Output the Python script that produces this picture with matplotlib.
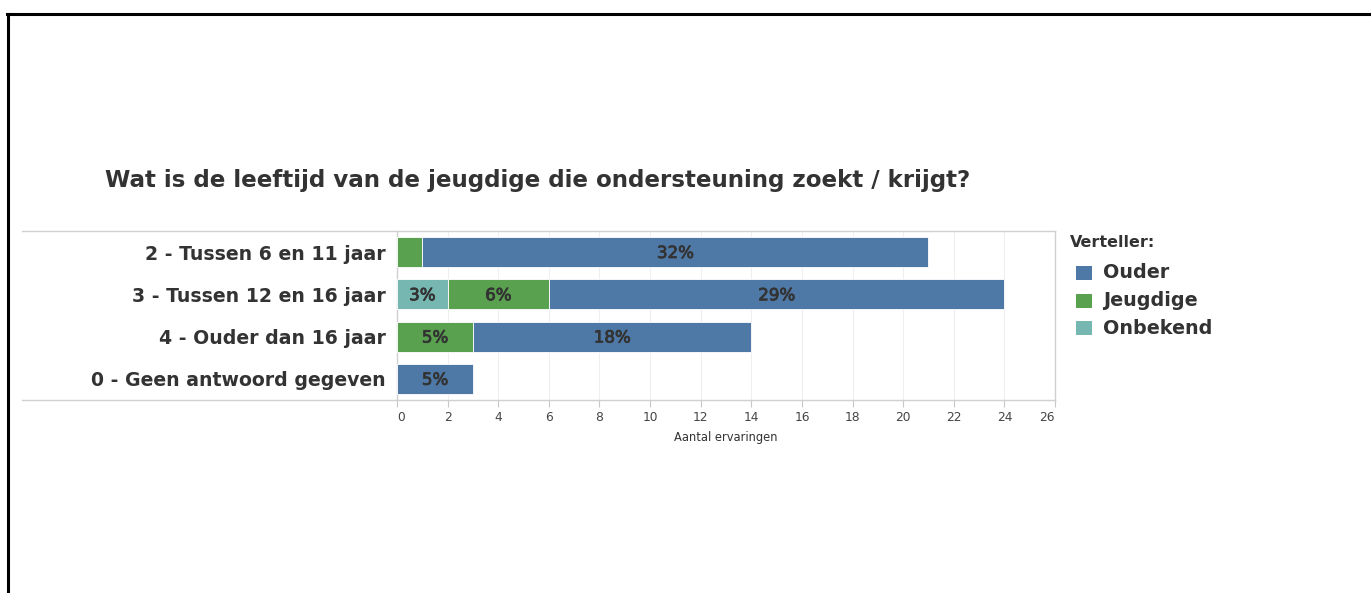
import matplotlib
matplotlib.use("Agg")
import matplotlib.pyplot as plt
import matplotlib.patheffects as pe
from matplotlib.lines import Line2D
from matplotlib.patches import Rectangle

# ---- data ----
categories = ["2 - Tussen 6 en 11 jaar", "3 - Tussen 12 en 16 jaar",
              "4 - Ouder dan 16 jaar", "0 - Geen antwoord gegeven"]
onbekend = [0, 2, 0, 0]
jeugdige = [1, 4, 3, 0]
ouder = [20, 18, 11, 3]
onbekend_lbl = ["", "3%", "", ""]
jeugdige_lbl = ["", "6%", "5%", ""]
ouder_lbl = ["32%", "29%", "18%", "5%"]
series_names = ["Ouder", "Jeugdige", "Onbekend"]
colors = {"Ouder": "#4e79a7", "Jeugdige": "#59a14f", "Onbekend": "#76b7b2"}
xticks = list(range(0, 27, 2))
title = "Wat is de leeftijd van de jeugdige die ondersteuning zoekt / krijgt?"
xlabel = "Aantal ervaringen"
legend_title = "Verteller:"

FONT = "DejaVu Sans"
FW, FH = 1371, 593
fig = plt.figure(figsize=(FW / 100, FH / 100), dpi=100)
fig.patch.set_facecolor("white")

def fx(px):
    return px / FW

def fy(py):
    return 1 - py / FH

LEFT, RIGHT, TOP, BOT = 397, 1055, 231, 400
ax = fig.add_axes([fx(LEFT), fy(BOT), fx(RIGHT) - fx(LEFT), fy(TOP) - fy(BOT)])

ypos = list(range(len(categories)))
h = 0.71
txtc = "#333333"
lab_font = dict(family=FONT, fontsize=12, color=txtc, fontweight="normal",
                path_effects=[pe.withStroke(linewidth=0.6, foreground=txtc)])

stack = [("Onbekend", onbekend, onbekend_lbl), ("Jeugdige", jeugdige, jeugdige_lbl),
         ("Ouder", ouder, ouder_lbl)]
left = [0] * len(categories)
for name, vals, lbls in stack:
    ax.barh(ypos, vals, left=left, height=h, color=colors[name],
            edgecolor="#ffffff", linewidth=0.6, zorder=3)
    for i, (v, l) in enumerate(zip(vals, lbls)):
        if v > 0 and l:
            ax.text(left[i] + v / 2, ypos[i] + 0.02, l, ha="center", va="center",
                    zorder=4, **lab_font)
    left = [a + b for a, b in zip(left, vals)]

ax.set_xlim(0, 26)
ax.set_ylim(len(categories) - 0.5, -0.5)
ax.set_xticks(xticks)
ax.set_xticklabels([str(t) for t in xticks], family=FONT, fontsize=8.8, color="#444444")
tl = ax.get_xticklabels()
tl[0].set_ha("left")
tl[-1].set_ha("right")
ax.tick_params(axis="x", length=5, width=0.8, color="#c8c8c8", pad=3)
ax.set_yticks(ypos)
ax.set_yticklabels(categories, family=FONT, fontsize=13.6, fontweight="bold", color=txtc)
ax.tick_params(axis="y", length=0, pad=8)
ax.grid(axis="x", color="#efefef", linewidth=0.8, zorder=0)
ax.set_axisbelow(True)
for s in ["top", "bottom"]:
    ax.spines[s].set_visible(False)
for s in ["left", "right"]:
    ax.spines[s].set_color("#d0d0d0")
    ax.spines[s].set_linewidth(1.0)
ax.set_xlabel(xlabel, family=FONT, fontsize=8.3, color="#333333", labelpad=5)

# horizontal frame lines spanning header column and plot
for py in (TOP, BOT):
    fig.add_artist(Line2D([fx(22), fx(RIGHT)], [fy(py), fy(py)], color="#d0d0d0", lw=1.0))

# title
fig.text(fx(105), fy(180), title, ha="left", va="center", family=FONT,
         fontsize=16.6, fontweight="bold", color=txtc)

# legend
fig.text(fx(1070), fy(243), legend_title, ha="left", va="center", family=FONT,
         fontsize=11.5, fontweight="bold", color="#333333")
for k, name in enumerate(series_names):
    cy = 273 + k * 27.5
    fig.add_artist(Rectangle((fx(1076), fy(cy + 7)), fx(16), fy(cy - 7) - fy(cy + 7),
                             facecolor=colors[name], edgecolor="none"))
    fig.text(fx(1103), fy(cy), name, ha="left", va="center", family=FONT,
             fontsize=13.8, fontweight="bold", color=txtc)

# black page border (top and left)
fig.add_artist(Line2D([fx(7), fx(FW)], [fy(14), fy(14)], color="black", lw=2.2))
fig.add_artist(Line2D([fx(8), fx(8)], [fy(14), fy(FH)], color="black", lw=2.2))

fig.savefig("out.png", dpi=100, facecolor="white")
